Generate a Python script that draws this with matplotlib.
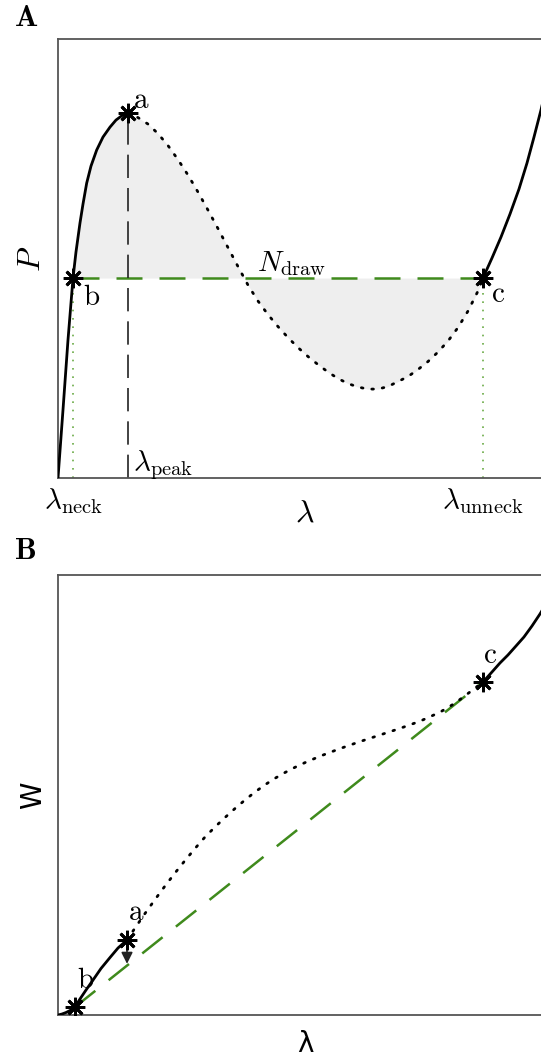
import matplotlib
matplotlib.use("Agg")
import matplotlib.pyplot as plt
import numpy as np

plt.rcParams['mathtext.fontset'] = 'cm'

# ---- panel A: load P vs stretch (normalised units) ----
lam_start = [0.0, 0.0101, 0.0202, 0.0304]
P_start = [0.0, 0.155, 0.314, 0.4556]
lam_rise = [0.0304, 0.0364, 0.0445, 0.0506, 0.0581, 0.0668, 0.0783, 0.0911,
            0.1053, 0.1174, 0.1296, 0.1417]
P_rise = [0.4556, 0.5148, 0.5809, 0.6241, 0.6720, 0.7107, 0.7472, 0.7768,
          0.7995, 0.8155, 0.8257, 0.8314]
lam_unstable = [0.1417, 0.1619, 0.1822, 0.2024, 0.2227, 0.2429, 0.2632, 0.2834,
                0.3036, 0.3239, 0.3441, 0.3644, 0.3846, 0.4049, 0.4251, 0.4453,
                0.4656, 0.4858, 0.5061, 0.5263, 0.5466, 0.5668, 0.5870, 0.6073,
                0.6275, 0.6478, 0.6680, 0.6883, 0.7085, 0.7287, 0.7490, 0.7692,
                0.7895, 0.8097, 0.8300, 0.8502, 0.8603]
P_unstable = [0.8314, 0.8212, 0.8064, 0.7847, 0.7574, 0.7255, 0.6902, 0.6515,
              0.6105, 0.5683, 0.5251, 0.4818, 0.4396, 0.4032, 0.3724, 0.3451,
              0.3200, 0.2973, 0.2768, 0.2585, 0.2415, 0.2267, 0.2153, 0.2073,
              0.2027, 0.2027, 0.2084, 0.2198, 0.2312, 0.2472, 0.2654, 0.2870,
              0.3121, 0.3428, 0.3804, 0.4260, 0.4556]
lam_stiff = [0.8603, 0.8785, 0.8968, 0.9150, 0.9332, 0.9494, 0.9636, 0.9777,
             0.9919, 1.0]
P_stiff = [0.4556, 0.5011, 0.5490, 0.6014, 0.6583, 0.7175, 0.7768, 0.8383,
           0.9066, 0.9476]

lam_neck = 0.0304
lam_peak = 0.1417
lam_unneck = 0.8603
P_peak = 0.8314
N_draw = 0.4556

# ---- panel B: work W vs stretch ----
lamB_start = [0.0, 0.0081, 0.0162, 0.0243, 0.0344]
W_start = [0.0, 0.0023, 0.0057, 0.0102, 0.0182]
lamB_rise = [0.0344, 0.0445, 0.0567, 0.0709, 0.0870, 0.1053, 0.1215, 0.1397]
W_rise = [0.0182, 0.0364, 0.0568, 0.0795, 0.1057, 0.1307, 0.1523, 0.1705]
lamB_unstable = [0.1397, 0.1559, 0.1761, 0.1964, 0.2166, 0.2368, 0.2571, 0.2773,
                 0.2976, 0.3178, 0.3381, 0.3583, 0.3785, 0.3988, 0.4190, 0.4393,
                 0.4595, 0.4798, 0.5000, 0.5304, 0.5709, 0.6113, 0.6518, 0.6923,
                 0.7328, 0.7733, 0.8036, 0.8340, 0.8603]
W_unstable = [0.1705, 0.1977, 0.2307, 0.2625, 0.2932, 0.3227, 0.3511, 0.3784,
              0.4045, 0.4273, 0.4489, 0.4693, 0.4886, 0.5068, 0.5232, 0.5380,
              0.5511, 0.5630, 0.5736, 0.5882, 0.6055, 0.6214, 0.6364, 0.6514,
              0.6677, 0.6882, 0.7086, 0.7341, 0.7568]
lamB_stiff = [0.8603, 0.8785, 0.8947, 0.9109, 0.9271, 0.9433, 0.9595, 0.9757,
              0.9879, 1.0]
W_stiff = [0.7568, 0.7795, 0.8, 0.8182, 0.8386, 0.8591, 0.8841, 0.9114,
           0.9341, 0.9591]

green = '#3f8a1c'
green_light = '#6aaa45'
star = (8, 2, 0)
dots = (0, (0.6, 3.2))
long_dash = (0, (10.4, 6.8))

fig = plt.figure(figsize=(5.41, 10.56), dpi=100)
axA = fig.add_axes([0.1072, 0.5473, 0.9131, 0.4157])
axB = fig.add_axes([0.1072, 0.0388, 0.9131, 0.4167])

# ---------- A ----------
x_fill = np.array(lam_rise + lam_unstable[1:])
y_fill = np.array(P_rise + P_unstable[1:])
axA.fill_between(x_fill, y_fill, N_draw, color='#eeeeee', lw=0, zorder=1)
axA.plot(lam_start, P_start, color='black', lw=2, zorder=3)
axA.plot(lam_rise, P_rise, color='black', lw=2, zorder=3)
axA.plot(lam_unstable, P_unstable, color='black', lw=2, ls=dots,
         dash_capstyle='round', zorder=3)
axA.plot(lam_stiff, P_stiff, color='black', lw=2, zorder=3)
axA.plot([lam_neck, lam_unneck], [N_draw, N_draw], color=green, lw=1.8,
         ls=long_dash, zorder=2)
axA.plot([lam_neck, lam_neck], [0, N_draw], color=green_light, lw=1.2,
         ls=(0, (1, 4)), zorder=2)
axA.plot([lam_unneck, lam_unneck], [0, N_draw], color=green_light, lw=1.2,
         ls=(0, (1, 4)), zorder=2)
axA.plot([lam_peak, lam_peak], [0, P_peak], color='#222222', lw=1.2,
         ls=(0, (14, 6)), zorder=2)
axA.plot([lam_neck, lam_peak, lam_unneck], [N_draw, P_peak, N_draw], ls='none',
         marker=star, ms=14, mew=2, color='black', zorder=4)

axA.text(lam_peak + 0.010, 0.843, r'$\mathrm{a}$', fontsize=21, va='baseline')
axA.text(0.0506, 0.394, r'$\mathrm{b}$', fontsize=21, va='baseline')
axA.text(0.8765, 0.401, r'$\mathrm{c}$', fontsize=21, va='baseline')
axA.text(0.403, 0.4715, r'$N_{\rm draw}$', fontsize=21, va='baseline')
axA.text(lam_peak + 0.010, 0.016, r'$\lambda_{\rm peak}$', fontsize=21, va='baseline')

axA.set_xlim(0, 1)
axA.set_ylim(0, 1)
axA.set_xticks([lam_neck, lam_unneck])
axA.set_xticklabels([r'$\lambda_{\rm neck}$', r'$\lambda_{\rm unneck}$'], fontsize=21)
axA.tick_params(axis='x', length=0, pad=6)
axA.set_yticks([])
axA.set_xlabel(r'$\lambda$', fontsize=23)
axA.set_ylabel(r'$P$', fontsize=23, labelpad=8)
axA.xaxis.set_label_coords(0.5, -0.045)

# ---------- B ----------
lam_b, W_b = lamB_rise[0], W_rise[0]
lam_a, W_a = lamB_rise[-1], W_rise[-1]
lam_c, W_c = lamB_unstable[-1], W_unstable[-1]
axB.plot(lamB_start, W_start, color='black', lw=2, zorder=3)
axB.plot(lamB_rise, W_rise, color='black', lw=2, zorder=3)
axB.plot(lamB_unstable, W_unstable, color='black', lw=2, ls=dots,
         dash_capstyle='round', zorder=3)
axB.plot(lamB_stiff, W_stiff, color='black', lw=2, zorder=3)
axB.plot([lam_b, lam_c], [W_b, W_c], color=green, lw=1.8, ls=long_dash, zorder=2)
W_line = np.interp(lam_a, [lam_b, lam_c], [W_b, W_c])
axB.annotate('', xy=(lam_a, W_line + 0.004), xytext=(lam_a, W_a),
             arrowprops=dict(arrowstyle='-|>', color='#222222', lw=1.2,
                             mutation_scale=17, shrinkA=0, shrinkB=0), zorder=4)
axB.plot([lam_b, lam_a, lam_c], [W_b, W_a, W_c], ls='none', marker=star, ms=14,
         mew=2, color='black', zorder=5)
axB.text(0.1417, 0.216, r'$\mathrm{a}$', fontsize=21, va='baseline')
axB.text(0.0385, 0.0614, r'$\mathrm{b}$', fontsize=21, va='baseline')
axB.text(0.8603, 0.80, r'$\mathrm{c}$', fontsize=21, va='baseline')

axB.set_xlim(0, 1)
axB.set_ylim(0, 1)
axB.set_xticks([])
axB.set_yticks([])
axB.set_xlabel('λ', fontsize=20, family='DejaVu Sans')
axB.set_ylabel('W', fontsize=20, family='DejaVu Sans', labelpad=8)
axB.xaxis.set_label_coords(0.5, -0.034)

for ax in (axA, axB):
    for s in ax.spines.values():
        s.set_color('#555555')
        s.set_linewidth(1.3)

fig.text(0.026, 0.983, r'$\mathbf{A}$', fontsize=22, va='center')
fig.text(0.026, 0.479, r'$\mathbf{B}$', fontsize=22, va='center')

fig.savefig('out.png', dpi=100)
